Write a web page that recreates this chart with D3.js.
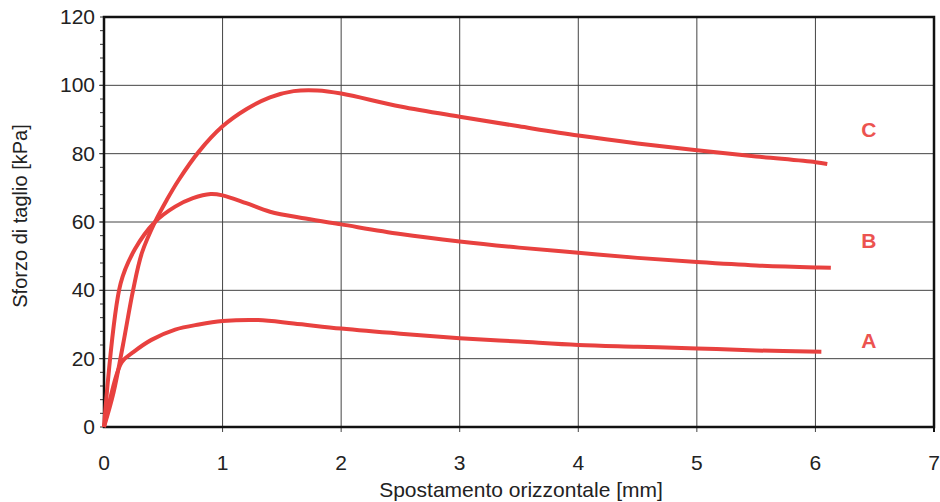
<!DOCTYPE html>
<html>
<head>
<meta charset="utf-8">
<script src="https://cdn.jsdelivr.net/npm/d3@7"></script>
<style>
  body { margin: 0; background: #fff; }
  svg text { font-family: "Liberation Sans", "DejaVu Sans", sans-serif; fill: #222; }
</style>
</head>
<body>
<div id="grafico"></div>
<script>
// valori (spostamento mm, sforzo kPa)
const curvaA = [[0,0],[0.05,8],[0.15,19],[0.25,22],[0.4,25.5],[0.6,28.5],[0.8,30],[1.0,31],[1.3,31.3],[1.6,30.3],[2,28.8],[2.5,27.3],[3,26],[3.5,25],[4,24],[4.5,23.5],[5,23],[5.5,22.4],[6.05,22]];
const curvaB = [[0,0],[0.14,42],[0.26,52],[0.43,60],[0.6,64.5],[0.75,67],[0.9,68.2],[1.0,67.8],[1.2,65.5],[1.4,63],[1.7,61],[2,59.3],[2.5,56.5],[3,54.3],[3.5,52.5],[4,51],[4.5,49.5],[5,48.3],[5.5,47.3],[6,46.7],[6.13,46.6]];
const curvaC = [[0,0],[0.08,10],[0.16,24],[0.245,40],[0.32,51],[0.43,60],[0.53,66.5],[0.63,72.3],[0.8,80.6],[1.0,88],[1.2,93],[1.4,96.5],[1.6,98.3],[1.8,98.5],[2.0,97.6],[2.5,93.8],[3,90.8],[3.5,88],[4,85.3],[4.5,83],[5,81],[5.5,79.2],[6,77.5],[6.1,77]];

const etichette = ["A","B","C"];
const posEtichette = [[6.45,23],[6.45,52.5],[6.45,85]];
const xTicks = [0,1,2,3,4,5,6,7];
const yTicks = [0,20,40,60,80,100,120];
const yMinori = d3.range(0,121,4);

const W = 940, H = 502;
const margin = {left:104, right:6, top:17, bottom:75};

const svg = d3.select("#grafico").append("svg")
    .attr("width",W).attr("height",H);

const scx = d3.scaleLinear([0,7],[margin.left, W - margin.right]);
const scy = d3.scaleLinear([0,120],[H - margin.bottom, margin.top]);

const rosso = "#e8413f";

// griglia
svg.append("g").selectAll("line")
    .data(xTicks.slice(1,-1))
    .join("line")
    .attr("x1",d=>scx(d)).attr("x2",d=>scx(d))
    .attr("y1",scy(120)).attr("y2",scy(0)+5)
    .attr("stroke","#444").attr("stroke-width",1);

svg.append("g").selectAll("line")
    .data(yTicks.slice(1,-1))
    .join("line")
    .attr("x1",scx(0)-5).attr("x2",scx(7))
    .attr("y1",d=>scy(d)).attr("y2",d=>scy(d))
    .attr("stroke","#444").attr("stroke-width",1);

// tacche minori asse y
svg.append("g").selectAll("line")
    .data(yMinori)
    .join("line")
    .attr("x1",scx(0)-4).attr("x2",scx(0))
    .attr("y1",d=>scy(d)).attr("y2",d=>scy(d))
    .attr("stroke","#333").attr("stroke-width",1);

// cornice
svg.append("rect")
    .attr("x",scx(0)).attr("y",scy(120))
    .attr("width",scx(7)-scx(0)).attr("height",scy(0)-scy(120))
    .attr("fill","none").attr("stroke","#111").attr("stroke-width",2.5);

svg.append("line")
    .attr("x1",scx(7)).attr("x2",scx(7))
    .attr("y1",scy(0)).attr("y2",scy(0)+5)
    .attr("stroke","#111").attr("stroke-width",2);

// etichette assi
svg.append("g").selectAll("text")
    .data(xTicks)
    .join("text")
    .attr("x",d=>scx(d)).attr("y",scy(0)+43)
    .attr("text-anchor","middle")
    .attr("font-size",21)
    .text(d=>d);

svg.append("g").selectAll("text")
    .data(yTicks)
    .join("text")
    .attr("x",scx(0)-9).attr("y",d=>scy(d)+7)
    .attr("text-anchor","end")
    .attr("font-size",21)
    .text(d=>d);

svg.append("text")
    .attr("x",(scx(0)+scx(7))/2 + 2).attr("y",H-5)
    .attr("text-anchor","middle")
    .attr("font-size",21)
    .text("Spostamento orizzontale [mm]");

svg.append("text")
    .attr("transform",`translate(27,${scy(60)-6}) rotate(-90)`)
    .attr("text-anchor","middle")
    .attr("font-size",20)
    .text("Sforzo di taglio [kPa]");

// curve
const drawer = d3.line().x(d=>scx(d[0])).y(d=>scy(d[1])).curve(d3.curveCatmullRom.alpha(0.5));

svg.append("g").selectAll("path")
    .data([curvaA,curvaB,curvaC])
    .join("path")
    .attr("fill","none")
    .attr("stroke",rosso)
    .attr("stroke-width",4)
    .attr("stroke-linejoin","round")
    .attr("d",drawer);

svg.append("g").selectAll("text")
    .data(etichette)
    .join("text")
    .attr("x",(d,i)=>scx(posEtichette[i][0]))
    .attr("y",(d,i)=>scy(posEtichette[i][1]))
    .attr("text-anchor","middle")
    .attr("font-size",21)
    .attr("font-weight","bold")
    .style("fill","#ec5350")
    .text(d=>d);
</script>
</body>
</html>
